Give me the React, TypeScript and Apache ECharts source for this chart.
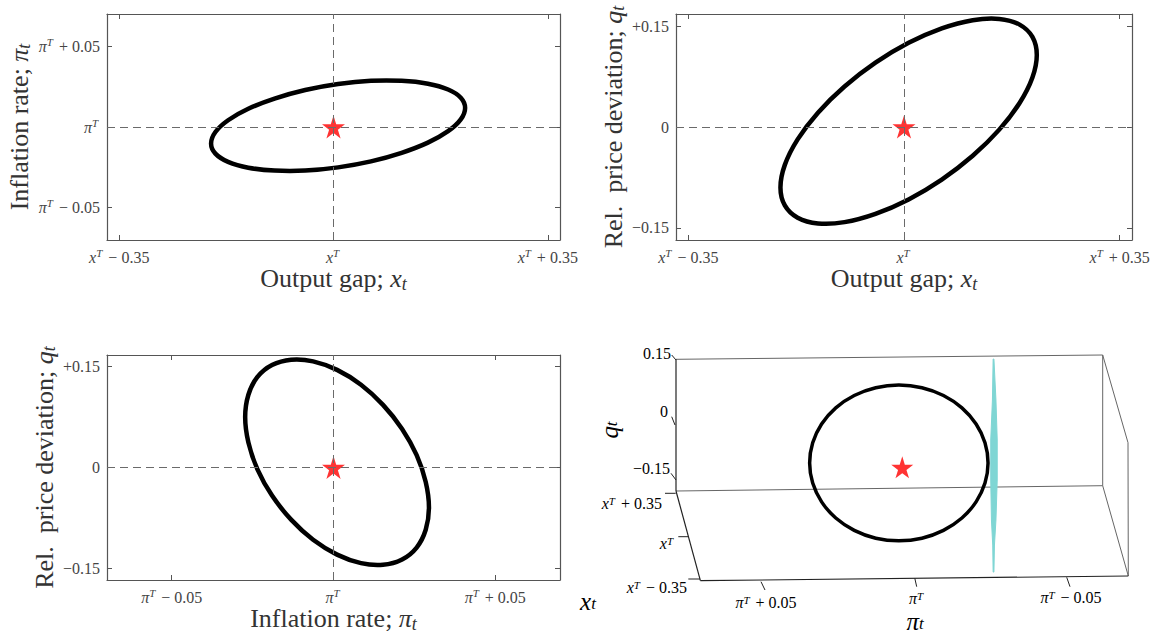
import React, { useEffect, useRef } from 'react';
import * as echarts from 'echarts';

// ---------- data (deviations from targets) ----------
// Panel 1: output gap x_t (horizontal) vs inflation pi_t (vertical)
const xpiX = [0.215, 0.2079, 0.1872, 0.1542, 0.1113, 0.0612, 0.0075, -0.0462, -0.0963, -0.1392, -0.1722, -0.1929, -0.2, -0.1929, -0.1722, -0.1392, -0.0963, -0.0462, 0.0075, 0.0612, 0.1113, 0.1542, 0.1872, 0.2079];
const xpiY = [0.0118, 0.0181, 0.0232, 0.0268, 0.0286, 0.0286, 0.0266, 0.0229, 0.0176, 0.0113, 0.0042, -0.0031, -0.0102, -0.0165, -0.0216, -0.0252, -0.027, -0.027, -0.025, -0.0213, -0.016, -0.0097, -0.0026, 0.0047];

// Panel 2: output gap x_t vs relative price deviation q_t
const xqX = [0.2155, 0.2084, 0.1876, 0.1546, 0.1115, 0.0613, 0.0075, -0.0463, -0.0965, -0.1396, -0.1726, -0.1934, -0.2005, -0.1934, -0.1726, -0.1396, -0.0965, -0.0463, 0.0075, 0.0613, 0.1115, 0.1546, 0.1876, 0.2084];
const xqY = [0.1072, 0.1339, 0.1522, 0.1607, 0.1588, 0.1466, 0.1251, 0.0956, 0.0602, 0.0213, -0.0184, -0.0563, -0.0898, -0.1165, -0.1348, -0.1433, -0.1414, -0.1292, -0.1077, -0.0782, -0.0428, -0.0039, 0.0358, 0.0737];

// Panel 3: inflation pi_t vs q_t
const piqX = [0.0295, 0.0285, 0.0257, 0.0212, 0.0153, 0.0085, 0.0011, -0.0063, -0.0131, -0.019, -0.0235, -0.0263, -0.0273, -0.0263, -0.0235, -0.019, -0.0131, -0.0063, 0.0011, 0.0085, 0.0153, 0.0212, 0.0257, 0.0285];
const piqY = [-0.0592, -0.0215, 0.0183, 0.0573, 0.093, 0.1229, 0.1449, 0.1576, 0.16, 0.1521, 0.1344, 0.108, 0.0748, 0.037, -0.0027, -0.0417, -0.0774, -0.1073, -0.1293, -0.142, -0.1444, -0.1365, -0.1188, -0.0924];

// Panel 4: 3-D view, projected onto the (pi, q) picture plane
const p3Pi = [-0.02395, -0.02295, -0.02004, -0.01541, -0.00938, -0.00235, 0.00519, 0.01274, 0.01977, 0.0258, 0.03043, 0.03334, 0.03434, 0.03334, 0.03043, 0.0258, 0.01977, 0.01274, 0.00519, -0.00235, -0.00938, -0.01541, -0.02004, -0.02295];
const p3Q = [-0.0928, -0.0437, 0.0021, 0.0414, 0.0715, 0.0904, 0.0969, 0.0904, 0.0715, 0.0414, 0.0021, -0.0437, -0.0928, -0.1419, -0.1876, -0.2269, -0.257, -0.276, -0.2825, -0.276, -0.257, -0.2269, -0.1876, -0.1419];
const star3 = [0.00408, -0.1035];
const cyanPi = [-0.02561, -0.02538, -0.02483, -0.02483, -0.02506, -0.02548, -0.02561, -0.02587, -0.02604, -0.02653, -0.02695, -0.02695, -0.02653, -0.02587];
const cyanQ = [0.1602, 0.0604, -0.037, -0.1344, -0.2318, -0.2927, -0.3585, -0.3585, -0.2927, -0.2318, -0.1344, -0.037, 0.0604, 0.1602];

// tick values
const xTicks = [-0.35, 0, 0.35];
const piTicks = [-0.05, 0, 0.05];
const qTicks = [-0.15, 0, 0.15];

// ---------- styling ----------
const SERIF = "'Liberation Serif', 'DejaVu Serif', serif";
const TICK_C = '#444';
const AXIS_C = '#555';
const TITLE_C = '#333';
const STAR = 'path://M50,0 L61.2,34.5 L97.6,34.5 L68.2,55.9 L79.4,90.5 L50,69.1 L20.6,90.5 L31.8,55.9 L2.4,34.5 L38.8,34.5 Z';

const mkTickRich = (lh: number): any => ({
  n: { fontFamily: SERIF, fontSize: 16, color: TICK_C, lineHeight: lh },
  i: { fontFamily: SERIF, fontSize: 16, fontStyle: 'italic', color: TICK_C, lineHeight: lh },
  s: { fontFamily: SERIF, fontSize: 11, fontStyle: 'italic', color: TICK_C, lineHeight: 8, verticalAlign: 'top', padding: [0, 2, 0, 0] },
});
const tickRich = mkTickRich(20);
const tick3Rich = mkTickRich(16);
const nameRich: any = {
  n: { fontFamily: SERIF, fontSize: 26, color: TITLE_C, lineHeight: 28 },
  i: { fontFamily: SERIF, fontSize: 26, fontStyle: 'italic', color: TITLE_C, lineHeight: 28 },
  b: { fontFamily: SERIF, fontSize: 18, fontStyle: 'italic', color: TITLE_C, lineHeight: 10, verticalAlign: 'bottom' },
};

const texTick = (sym: string) => (v: number) => {
  const base = `{i|${sym}}{s|T}`;
  if (Math.abs(v) < 1e-9) return base;
  return `${base}{n| ${v < 0 ? '−' : '+'} ${Math.abs(v).toFixed(2)}}`;
};
const qTick = (v: number) => (Math.abs(v) < 1e-9 ? '{n|0}' : `{n|${v < 0 ? '−' : '+'}${Math.abs(v).toFixed(2)}}`);

function axisPair(kind: 'x' | 'y', grid: number, min: number, max: number, ticks: number[], fmt: any, name: string, nameGap: number) {
  const common = {
    gridIndex: grid, type: 'value', min, max,
    splitLine: { show: false },
    axisLine: { show: true, onZero: false, lineStyle: { color: AXIS_C, width: 1.2 } },
    axisTick: { show: true, inside: true, length: 5, customValues: ticks, lineStyle: { color: AXIS_C } },
  };
  return [
    {
      ...common,
      position: kind === 'x' ? 'bottom' : 'left',
      axisLabel: { show: true, customValues: ticks, formatter: fmt, rich: tickRich, margin: 7 },
      name, nameLocation: 'middle', nameGap,
      nameRotate: kind === 'y' ? 90 : 0,
      nameTextStyle: { rich: nameRich },
    },
    { ...common, position: kind === 'x' ? 'top' : 'right', axisLabel: { show: false } },
  ];
}

const zip = (a: number[], b: number[]) => a.map((v, k) => [v, b[k]]);

// closed smooth curve through the read points, placed by the axes' scales
function loopSeries(ax: number, xs: number[], ys: number[], width: number) {
  return {
    type: 'custom', xAxisIndex: ax, yAxisIndex: ax, silent: true, z: 2,
    data: zip(xs, ys),
    renderItem: (params: any, api: any) => {
      if (params.dataIndex !== 0) return null;
      return {
        type: 'polygon',
        shape: { points: xs.map((x, k) => api.coord([x, ys[k]])), smooth: 0.34 },
        style: { fill: 'none', stroke: '#000', lineWidth: width, lineJoin: 'round' },
      };
    },
  };
}

function panelSeries(ax: number, xs: number[], ys: number[]) {
  return [
    loopSeries(ax, xs, ys, 4.5),
    {
      type: 'line', xAxisIndex: ax, yAxisIndex: ax, data: [], z: 3,
      markLine: {
        silent: true, symbol: 'none', label: { show: false },
        lineStyle: { color: '#6a6a6a', type: [8, 5], width: 1 },
        data: [{ xAxis: 0 }, { yAxis: 0 }],
      },
    },
    {
      type: 'scatter', xAxisIndex: ax, yAxisIndex: ax, data: [[0, 0]], z: 4,
      symbol: STAR, symbolSize: 23, itemStyle: { color: '#ff0000' }, silent: true,
    },
  ];
}

// ---------- 3-D frame decoration ----------
const seg = (x1: number, y1: number, x2: number, y2: number, c = '#666', w = 1) => ({
  type: 'line', silent: true, shape: { x1, y1, x2, y2 }, style: { stroke: c, lineWidth: w },
});
const txt = (x: number, y: number, text: string, align: string, rich: any, rotation = 0) => ({
  type: 'text', x, y, rotation, silent: true,
  style: { text, rich, align, verticalAlign: 'middle' },
});
const name3Rich: any = {
  i: { fontFamily: SERIF, fontSize: 25, fontStyle: 'italic', color: TITLE_C, lineHeight: 22 },
  b: { fontFamily: SERIF, fontSize: 17, fontStyle: 'italic', color: TITLE_C, lineHeight: 8, verticalAlign: 'bottom' },
};

export default function App() {
  const ref = useRef<HTMLDivElement>(null);
  useEffect(() => {
    if (!ref.current) return;
    const chart = echarts.init(ref.current, undefined, { renderer: 'svg' });
    const xFmt = texTick('x');
    const piFmt = texTick('π');

    const xAxis = [
      ...axisPair('x', 0, -0.37, 0.37, xTicks, xFmt, '{n|Output gap; }{i|x}{b|t}', 23),
      ...axisPair('x', 1, -0.37, 0.37, xTicks, xFmt, '{n|Output gap; }{i|x}{b|t}', 23),
      ...axisPair('x', 2, -0.07, 0.07, piTicks, piFmt, '{n|Inflation rate; }{i|π}{b|t}', 23),
      { gridIndex: 3, type: 'value', min: -0.07, max: 0.078, inverse: true, show: false },
    ];
    const yAxis = [
      ...axisPair('y', 0, -0.07, 0.07, piTicks, piFmt, '{n|Inflation rate; }{i|π}{b|t}', 74),
      ...axisPair('y', 1, -0.168, 0.168, qTicks, qTick, '{n|Rel.  price deviation; }{i|q}{b|t}', 49),
      ...axisPair('y', 2, -0.167, 0.167, qTicks, qTick, '{n|Rel.  price deviation; }{i|q}{b|t}', 49),
      { gridIndex: 3, type: 'value', min: -0.39, max: 0.17, show: false },
    ];

    const graphic = [
      // 3-D box
      seg(676, 359.3, 1102.7, 355),
      seg(1102.7, 355, 1102.7, 485.7),
      seg(676, 491, 1102.7, 485.7),
      seg(1102.7, 355, 1128, 442.7),
      seg(1128, 442.7, 1128.3, 576),
      seg(1102.7, 485.7, 1128.3, 576),
      seg(676, 359.3, 676, 491, '#222', 1.2),
      seg(676, 491, 700.4, 580.7, '#222', 1.2),
      seg(700.4, 580.7, 1128.3, 576, '#222', 1.2),
      // ticks
      seg(671.7, 355, 676, 360, '#222'),
      seg(671.7, 416.7, 675, 425, '#222'),
      seg(671, 473.3, 676, 480, '#222'),
      seg(665, 493.3, 675.7, 493.3, '#222'),
      seg(678.3, 536.7, 688.3, 536.7, '#222'),
      seg(688.3, 579, 700, 579, '#222'),
      seg(761, 581.7, 765, 590, '#222'),
      seg(914.8, 578.3, 916.7, 586.7, '#222'),
      seg(1066.7, 577.3, 1070, 586.7, '#222'),
      // tick labels
      txt(671, 353, qTick(0.15).replace('+', ''), 'right', tick3Rich),
      txt(668, 411, qTick(0), 'right', tick3Rich),
      txt(670, 468, qTick(-0.15), 'right', tick3Rich),
      txt(662, 503, xFmt(0.35), 'right', tick3Rich),
      txt(675, 543, xFmt(0), 'right', tick3Rich),
      txt(687, 587, xFmt(-0.35), 'right', tick3Rich),
      txt(766, 602, piFmt(0.05), 'center', tick3Rich),
      txt(917, 598, piFmt(0), 'center', tick3Rich),
      txt(1071, 597, piFmt(-0.05), 'center', tick3Rich),
      // axis names
      txt(588, 601, '{i|x}{b|t}', 'center', name3Rich),
      txt(915, 621, '{i|π}{b|t}', 'center', name3Rich),
      txt(609, 430, '{i|q}{b|t}', 'center', name3Rich, Math.PI / 2),
    ];

    chart.setOption({
      animation: false,
      backgroundColor: '#fff',
      grid: [
        { left: 107, top: 14, width: 453, height: 226 },
        { left: 676, top: 14, width: 456, height: 226 },
        { left: 107, top: 355, width: 453, height: 225 },
        { left: 676, top: 355, width: 453, height: 230 },
      ],
      xAxis,
      yAxis,
      graphic,
      series: [
        ...panelSeries(0, xpiX, xpiY),
        ...panelSeries(2, xqX, xqY),
        ...panelSeries(4, piqX, piqY),
        {
          type: 'custom', xAxisIndex: 6, yAxisIndex: 6, silent: true, clip: false,
          data: zip(cyanPi, cyanQ),
          renderItem: (params: any, api: any) => {
            if (params.dataIndex !== 0) return null;
            return {
              type: 'polygon',
              shape: { points: cyanPi.map((p, k) => api.coord([p, cyanQ[k]])) },
              style: { fill: '#7fd6d4', stroke: '#7fd6d4', lineWidth: 1 },
            };
          },
        },
        loopSeries(6, p3Pi, p3Q, 3.5),
        {
          type: 'scatter', xAxisIndex: 6, yAxisIndex: 6, data: [star3], z: 4,
          symbol: STAR, symbolSize: 22, itemStyle: { color: '#ff0000' }, silent: true,
        },
      ],
    });
    return () => chart.dispose();
  }, []);
  return <div ref={ref} style={{ position: 'fixed', left: 0, top: 0, width: 1154, height: 635, background: '#fff' }} />;
}
